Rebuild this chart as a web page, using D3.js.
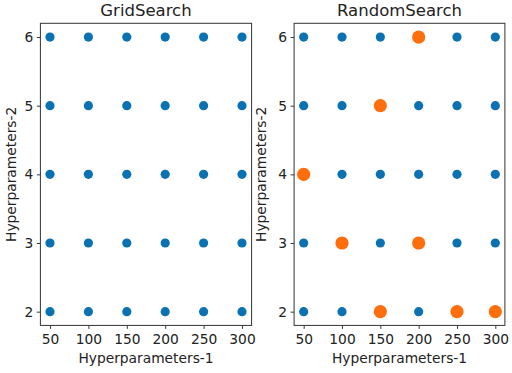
<!DOCTYPE html>
<html>
<head>
<meta charset="utf-8">
<script src="https://cdn.jsdelivr.net/npm/d3@7"></script>
<style>
  body { margin: 0; background: #fff; }
  text { font-family: "DejaVu Sans", sans-serif; fill: #222; }
</style>
</head>
<body>
<svg id="chart" width="512" height="373"></svg>
<script>
// data
var hp1Values = [50, 100, 150, 200, 250, 300];
var hp2Values = [2, 3, 4, 5, 6];
var titles = ["GridSearch", "RandomSearch"];
// points picked by the random search (hp1, hp2)
var randomHp1 = [200, 150, 50, 100, 200, 150, 250, 300];
var randomHp2 = [6, 5, 4, 3, 3, 2, 2, 2];

const blue = "#0a72b2",
  orange = "#ff6e0c";

// full grid of combinations
var gridPoints = [];
hp2Values.forEach((b) => {
  hp1Values.forEach((a) => gridPoints.push({ x: a, y: b }));
});
var randomPoints = randomHp1.map((a, i) => ({ x: a, y: randomHp2[i] }));

const svg = d3.select("#chart");

const panels = [
  { left: 40.4, right: 251.6, labelX: 11, random: false },
  { left: 294.1, right: 504.9, labelX: 261, random: true },
];
const plotTop = 23.3,
  plotBottom = 325.4;

panels.forEach((p, k) => {
  const xScale = d3.scaleLinear().domain([37.5, 312.5]).range([p.left, p.right]);
  const yScale = d3.scaleLinear().domain([1.8, 6.2]).range([plotBottom, plotTop]);

  const g = svg.append("g");

  /* axes */
  const xAxis = d3.axisBottom(xScale).tickValues(hp1Values).tickSize(3.5).tickPadding(5);
  g.append("g")
    .attr("transform", `translate(0,${plotBottom})`)
    .call(xAxis)
    .call((s) => s.select(".domain").remove());
  const yAxis = d3
    .axisLeft(yScale)
    .tickValues(hp2Values)
    .tickFormat(d3.format("d"))
    .tickSize(3.5)
    .tickPadding(3.5);
  g.append("g")
    .attr("transform", `translate(${p.left},0)`)
    .call(yAxis)
    .call((s) => s.select(".domain").remove());
  g.selectAll(".tick text").style("font-size", "13.8px").attr("fill", "#222");
  g.selectAll(".tick line").attr("stroke", "#222").attr("stroke-width", 0.9);

  /* frame */
  g.append("rect")
    .attr("x", p.left)
    .attr("y", plotTop)
    .attr("width", p.right - p.left)
    .attr("height", plotBottom - plotTop)
    .attr("fill", "none")
    .attr("stroke", "#333")
    .attr("stroke-width", 1);

  /* points */
  g.selectAll("circle.grid")
    .data(gridPoints)
    .enter()
    .append("circle")
    .attr("class", "grid")
    .attr("cx", (d) => xScale(d.x))
    .attr("cy", (d) => yScale(d.y))
    .attr("r", 4.6)
    .attr("fill", blue);

  if (p.random) {
    g.selectAll("circle.rand")
      .data(randomPoints)
      .enter()
      .append("circle")
      .attr("class", "rand")
      .attr("cx", (d) => xScale(d.x))
      .attr("cy", (d) => yScale(d.y))
      .attr("r", 6.6)
      .attr("fill", orange);
  }

  /* labels */
  g.append("text")
    .attr("x", (p.left + p.right) / 2)
    .attr("y", 16)
    .attr("text-anchor", "middle")
    .style("font-size", "16.5px")
    .text(titles[k]);
  g.append("text")
    .attr("x", (p.left + p.right) / 2)
    .attr("y", 363)
    .attr("text-anchor", "middle")
    .style("font-size", "13.8px")
    .text("Hyperparameters-1");
  g.append("text")
    .attr("transform", `translate(${p.labelX},${(plotTop + plotBottom) / 2}) rotate(-90)`)
    .attr("dy", "0.35em")
    .attr("text-anchor", "middle")
    .style("font-size", "13.8px")
    .text("Hyperparameters-2");
});
</script>
</body>
</html>
